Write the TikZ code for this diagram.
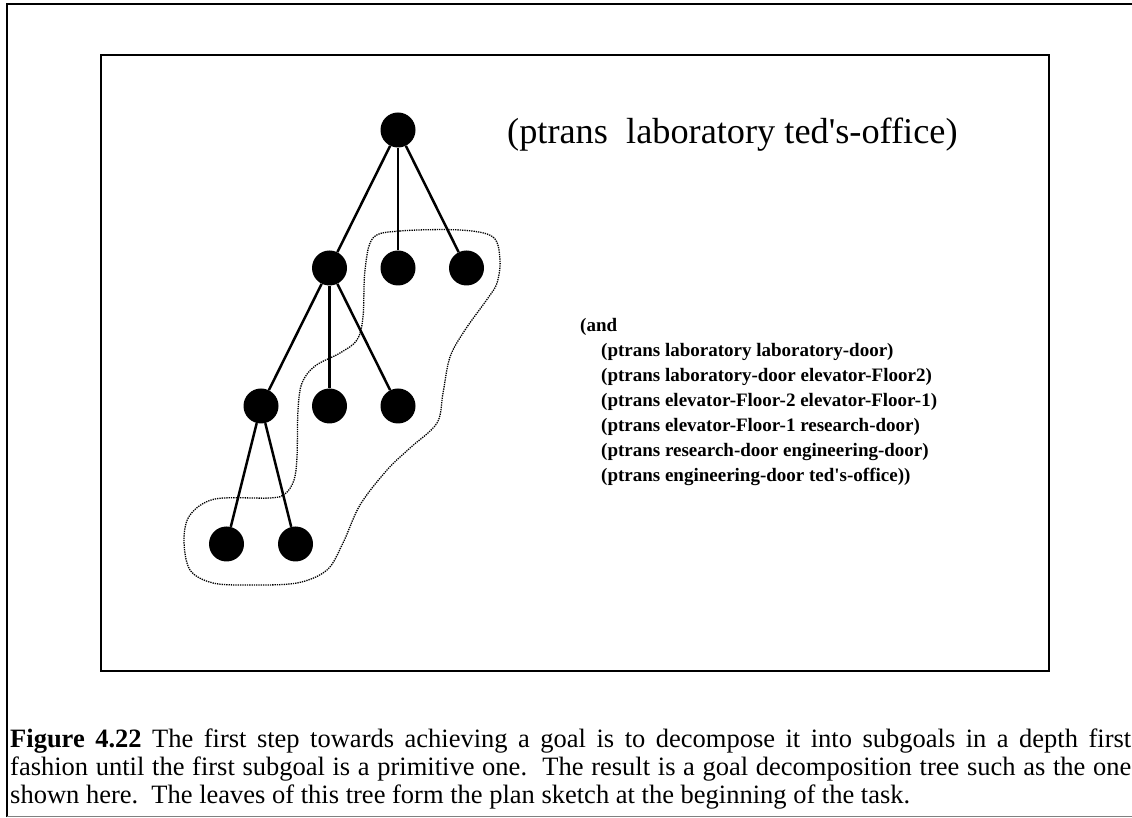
\documentclass[tikz,border=0pt]{standalone}
\usepackage{fontspec}
\setmainfont{Liberation Serif}
\begin{document}
\begin{tikzpicture}[x=1pt,y=1pt,
			goal/.style={circle,fill,inner sep=0pt,minimum size=35pt},
			frame/.style={line width=2.6pt},
			sketch/.style={densely dotted,line width=1.3pt}]
\useasboundingbox (0,0) rectangle (1132,817);
\draw[frame] (7,0) -- (7,813) -- (1132,813);
\draw[gray,line width=1pt] (7,1) -- (1132,1);
\draw[frame] (101,762) rectangle (1049,146);
\begin{scope}[every node/.style={goal},
			level distance=138pt,
			level 1/.style={sibling distance=68.5pt},
			level 2/.style={sibling distance=68.5pt},
			level 3/.style={sibling distance=69pt},
			edge from parent/.style={draw,line width=2.5pt}]
\node (root) at (398,687) {}
child { node (a) {}
	child { node (d) {}
		child { node (g) {}}
		child { node (h) {}}}
	child { node (e) {}}
	child { node (f) {}}
	}
child { node (b) {}}
child { node (c) {}};
\end{scope}
\draw[sketch] plot[smooth cycle,tension=0.55] coordinates {
	(373,579) (400,586) (460,587) (493,580) (500,557) (497,534) (488,519)
	(465,487) (450,460) (443,424) (437,394) (410,369) (387,347) (360,312)
	(343,274) (327,247) (297,234) (250,232) (213,234) (190,247) (184,277)
	(190,302) (215,318) (270,319) (285,323) (294,337) (297,360) (298,407)
	(302,434) (315,451) (340,464) (357,477) (363,500) (365,547)};
\node[anchor=base west,inner sep=0pt] (top) at (507,673)
	{\fontsize{36.3}{40}\selectfont (ptrans\ \ laboratory ted\textquotesingle s-office)};
\node[anchor=base west,inner sep=0pt,align=left,
	font=\bfseries\fontsize{19}{25}\selectfont] (plan) at (580,335)
	{(and\\
	\hspace*{21pt}(ptrans laboratory laboratory-door)\\
	\hspace*{21pt}(ptrans laboratory-door elevator-Floor2)\\
	\hspace*{21pt}(ptrans elevator-Floor-2 elevator-Floor-1)\\
	\hspace*{21pt}(ptrans elevator-Floor-1 research-door)\\
	\hspace*{21pt}(ptrans research-door engineering-door)\\
	\hspace*{21pt}(ptrans engineering-door ted\textquotesingle s-office))};
\node[anchor=base west,inner sep=0pt,text width=1121pt,align=justify,
	font=\fontsize{26.5}{28}\selectfont] (caption) at (10,70)
	{\textbf{Figure 4.22} The first step towards achieving a goal is to decompose it into subgoals in a depth first\linebreak
	fashion until the first subgoal is a primitive one.\ \ The result is a goal decomposition tree such as the one\linebreak
	shown here.\ \ The leaves of this tree form the plan sketch at the beginning of the task.};
\end{tikzpicture}
\end{document}
